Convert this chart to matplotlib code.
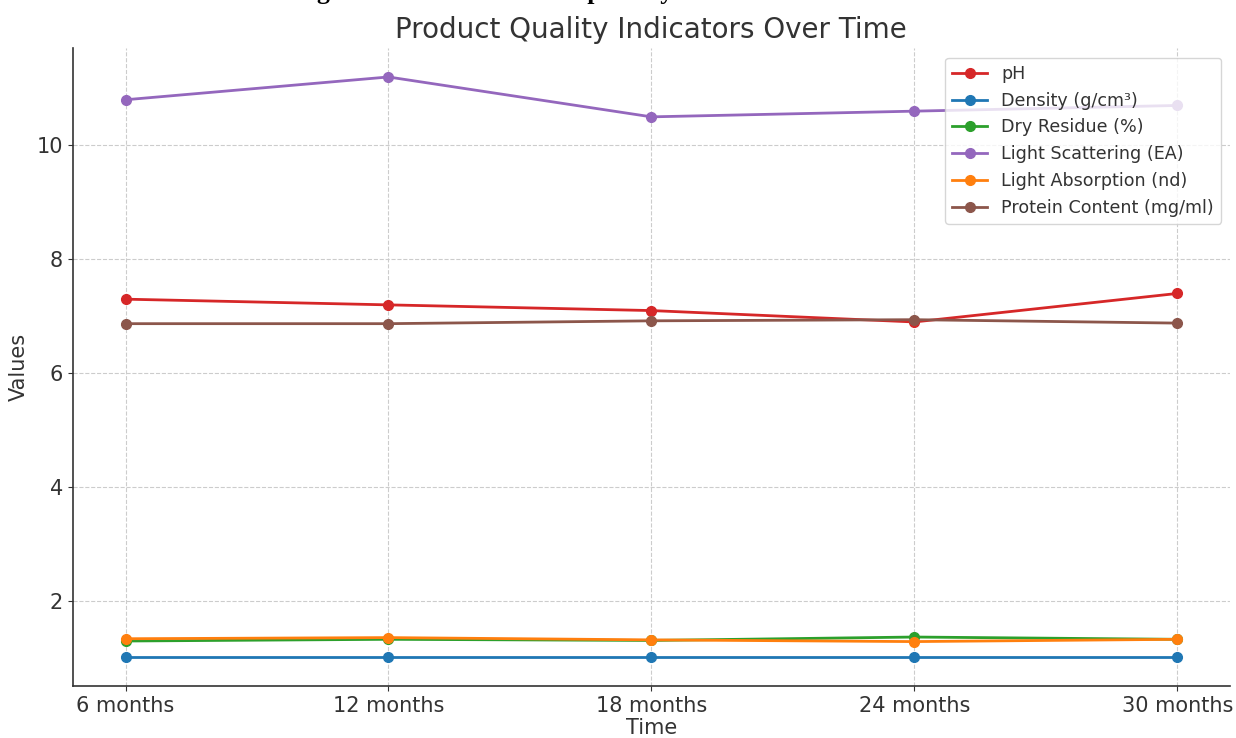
import matplotlib

matplotlib.use("Agg")
import matplotlib.pyplot as plt

time_labels = ["6 months", "12 months", "18 months", "24 months", "30 months"]

ph = [7.30, 7.20, 7.10, 6.90, 7.40]
density = [1.02, 1.02, 1.02, 1.02, 1.02]
dry_residue = [1.30, 1.33, 1.31, 1.37, 1.33]
light_scattering = [10.8, 11.2, 10.5, 10.6, 10.7]
light_absorption = [1.34, 1.36, 1.32, 1.29, 1.33]
protein_content = [6.87, 6.87, 6.92, 6.94, 6.88]

series = [
    ("pH", ph, "#d62728"),
    ("Density (g/cm³)", density, "#1f77b4"),
    ("Dry Residue (%)", dry_residue, "#2ca02c"),
    ("Light Scattering (EA)", light_scattering, "#9467bd"),
    ("Light Absorption (nd)", light_absorption, "#ff7f0e"),
    ("Protein Content (mg/ml)", protein_content, "#8c564b"),
]

text_color = "#333333"

fig = plt.figure(figsize=(12.36, 7.38), dpi=100)
ax = fig.add_axes([0.059, 0.0705, 0.936, 0.8645])

for label, values, color in series:
    ax.plot(time_labels, values, marker="o", markersize=7, linewidth=2,
            color=color, label=label)

ax.set_title("Product Quality Indicators Over Time", fontsize=20,
             color=text_color, pad=7.5)
ax.set_xlabel("Time", fontsize=15, color=text_color, labelpad=2)
ax.set_ylabel("Values", fontsize=15, color=text_color, labelpad=6)
ax.tick_params(labelsize=15, colors=text_color)
ax.grid(True, linestyle="--", color="#cccccc", linewidth=0.8)

for side in ("top", "right"):
    ax.spines[side].set_visible(False)
for side in ("left", "bottom"):
    ax.spines[side].set_color(text_color)
    ax.spines[side].set_linewidth(1.2)

leg = ax.legend(loc="upper right", fontsize=12.6, framealpha=0.8,
                bbox_to_anchor=(1.0, 0.998))
for t in leg.get_texts():
    t.set_color(text_color)

# caption of the source document, almost entirely cut off at the top
fig.text(0.238, 1.0 + 1.5 / 738, "Figure 3. Indicators of the potency over time",
         fontsize=18.5, fontweight="bold", family=["Liberation Serif"],
         va="baseline", ha="left", color="black")

fig.savefig("out.png", dpi=100)
